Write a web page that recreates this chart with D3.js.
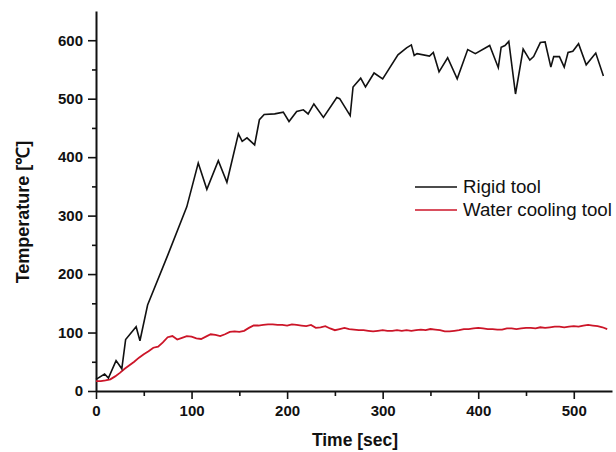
<!DOCTYPE html>
<html>
<head>
<meta charset="utf-8">
<script src="https://cdn.jsdelivr.net/npm/d3@7"></script>
<style>
  body { margin: 0; background: #fff; }
  text { font-family: Arial, "Liberation Sans", sans-serif; }
</style>
</head>
<body>
<script>
// rigid tool (black), sampled unevenly
let rigidTime = [0, 9, 13, 21, 27, 31, 42, 46, 54, 75, 95, 107, 116, 128, 137, 149, 153, 158, 166, 171, 176, 187, 196, 202, 210, 217, 222, 228, 238, 252, 255, 266, 269, 277, 282, 291, 300, 316, 325, 330, 333, 336, 349, 353, 359, 368, 378, 389, 397, 412, 421, 424, 428, 432, 439, 447, 454, 458, 465, 470, 476, 479, 485, 490, 494, 499, 505, 513, 523, 531]
let rigidTemp = [20, 29, 22, 52, 38, 88, 110, 86, 147, 232, 315, 390, 345, 394, 357, 440, 427, 433, 421, 464, 473, 474, 477, 461, 478, 481, 474, 491, 468, 502, 500, 471, 520, 535, 520, 544, 534, 575, 587, 592, 574, 577, 573, 579, 546, 570, 534, 584, 577, 591, 553, 588, 591, 598, 508, 585, 566, 572, 596, 597, 554, 572, 572, 554, 579, 581, 594, 558, 578, 539]

// water cooling tool (red), every 5 sec
let coolTime = d3.range(0, 540, 5)
let coolTemp = [17, 17, 18, 20, 25, 31, 38, 44, 50, 57, 63, 68, 74, 76, 83, 92, 94, 88, 91, 94,
  93, 90, 89, 93, 97, 96, 94, 97, 101, 102, 101, 103, 108, 112, 112, 113, 114, 114, 113, 113,
  112, 114, 113, 112, 111, 113, 108, 109, 111, 107, 104, 106, 108, 106, 105, 104, 104, 103, 102, 103,
  104, 103, 103, 104, 103, 104, 103, 104, 105, 104, 106, 105, 104, 102, 102, 103, 104, 106, 106, 107,
  108, 107, 106, 106, 105, 105, 107, 107, 106, 107, 108, 108, 107, 109, 108, 109, 110, 110, 109, 110,
  111, 110, 112, 113, 112, 111, 109, 106]

let xTicks = [0, 100, 200, 300, 400, 500]
let yTicks = [0, 100, 200, 300, 400, 500, 600]
let seriesNames = ["Rigid tool", "Water cooling tool"]
let seriesColors = ["#111111", "#cc1528"]

let width = 616
let height = 452
let margin = { top: 11, left: 96, right: 4, bottom: 61 }

let svg = d3.select("body")
  .append("svg")
  .attr("width", width)
  .attr("height", height)

let x = d3.scaleLinear().domain([0, 540]).range([margin.left, 612])
let y = d3.scaleLinear().domain([0, 650]).range([height - margin.bottom, margin.top])

// minor ticks first, then major
svg.append("g")
  .attr("transform", `translate(0,${y(0)})`)
  .call(d3.axisBottom(x).tickValues(d3.range(50, 540, 100)).tickSize(5).tickFormat(""))
  .call(g => g.select(".domain").remove())
svg.append("g")
  .attr("transform", `translate(${x(0)},0)`)
  .call(d3.axisLeft(y).tickValues(d3.range(50, 650, 100)).tickSize(4).tickFormat(""))
  .call(g => g.select(".domain").remove())

let xAxis = svg.append("g")
  .attr("transform", `translate(0,${y(0)})`)
  .call(d3.axisBottom(x).tickValues(xTicks).tickSize(8).tickSizeOuter(0).tickPadding(6))
let yAxis = svg.append("g")
  .attr("transform", `translate(${x(0)},0)`)
  .call(d3.axisLeft(y).tickValues(yTicks).tickSize(8).tickSizeOuter(0).tickPadding(5))

svg.selectAll(".tick line").attr("stroke", "#111").attr("stroke-width", 1.6)
svg.selectAll(".domain").attr("stroke", "#111").attr("stroke-width", 2)
svg.selectAll(".tick text")
  .attr("font-size", 15)
  .attr("font-weight", "bold")
  .attr("fill", "#111")
  .style("font-family", "Arial, 'Liberation Sans', sans-serif")

let line = d3.line().x(d => x(d[0])).y(d => y(d[1]))

svg.append("path")
  .datum(coolTime.map((t, i) => [t, coolTemp[i]]))
  .attr("d", line)
  .attr("fill", "none")
  .attr("stroke", seriesColors[1])
  .attr("stroke-width", 1.8)

svg.append("path")
  .datum(rigidTime.map((t, i) => [t, rigidTemp[i]]))
  .attr("d", line)
  .attr("fill", "none")
  .attr("stroke", seriesColors[0])
  .attr("stroke-width", 1.6)
  .attr("stroke-linejoin", "miter")

// axis titles
svg.append("text")
  .attr("x", 355)
  .attr("y", 446)
  .attr("text-anchor", "middle")
  .attr("font-size", 17.5)
  .attr("font-weight", "bold")
  .attr("fill", "#111")
  .text("Time [sec]")

svg.append("text")
  .attr("transform", "translate(29,212) rotate(-90)")
  .attr("text-anchor", "middle")
  .attr("font-size", 18)
  .attr("font-weight", "bold")
  .attr("fill", "#111")
  .text("Temperature [℃]")

// legend
let legend = svg.selectAll(".legend")
  .data(seriesNames)
  .join("g")
  .attr("class", "legend")
  .attr("transform", (d, i) => `translate(415,${187 + i * 23})`)
legend.append("line")
  .attr("x1", 0).attr("x2", 42)
  .attr("stroke", (d, i) => seriesColors[i])
  .attr("stroke-width", 1.6)
legend.append("text")
  .attr("x", 48)
  .attr("y", 6)
  .attr("font-size", 18.7)
  .attr("fill", "#111")
  .text(d => d)
</script>
</body>
</html>
